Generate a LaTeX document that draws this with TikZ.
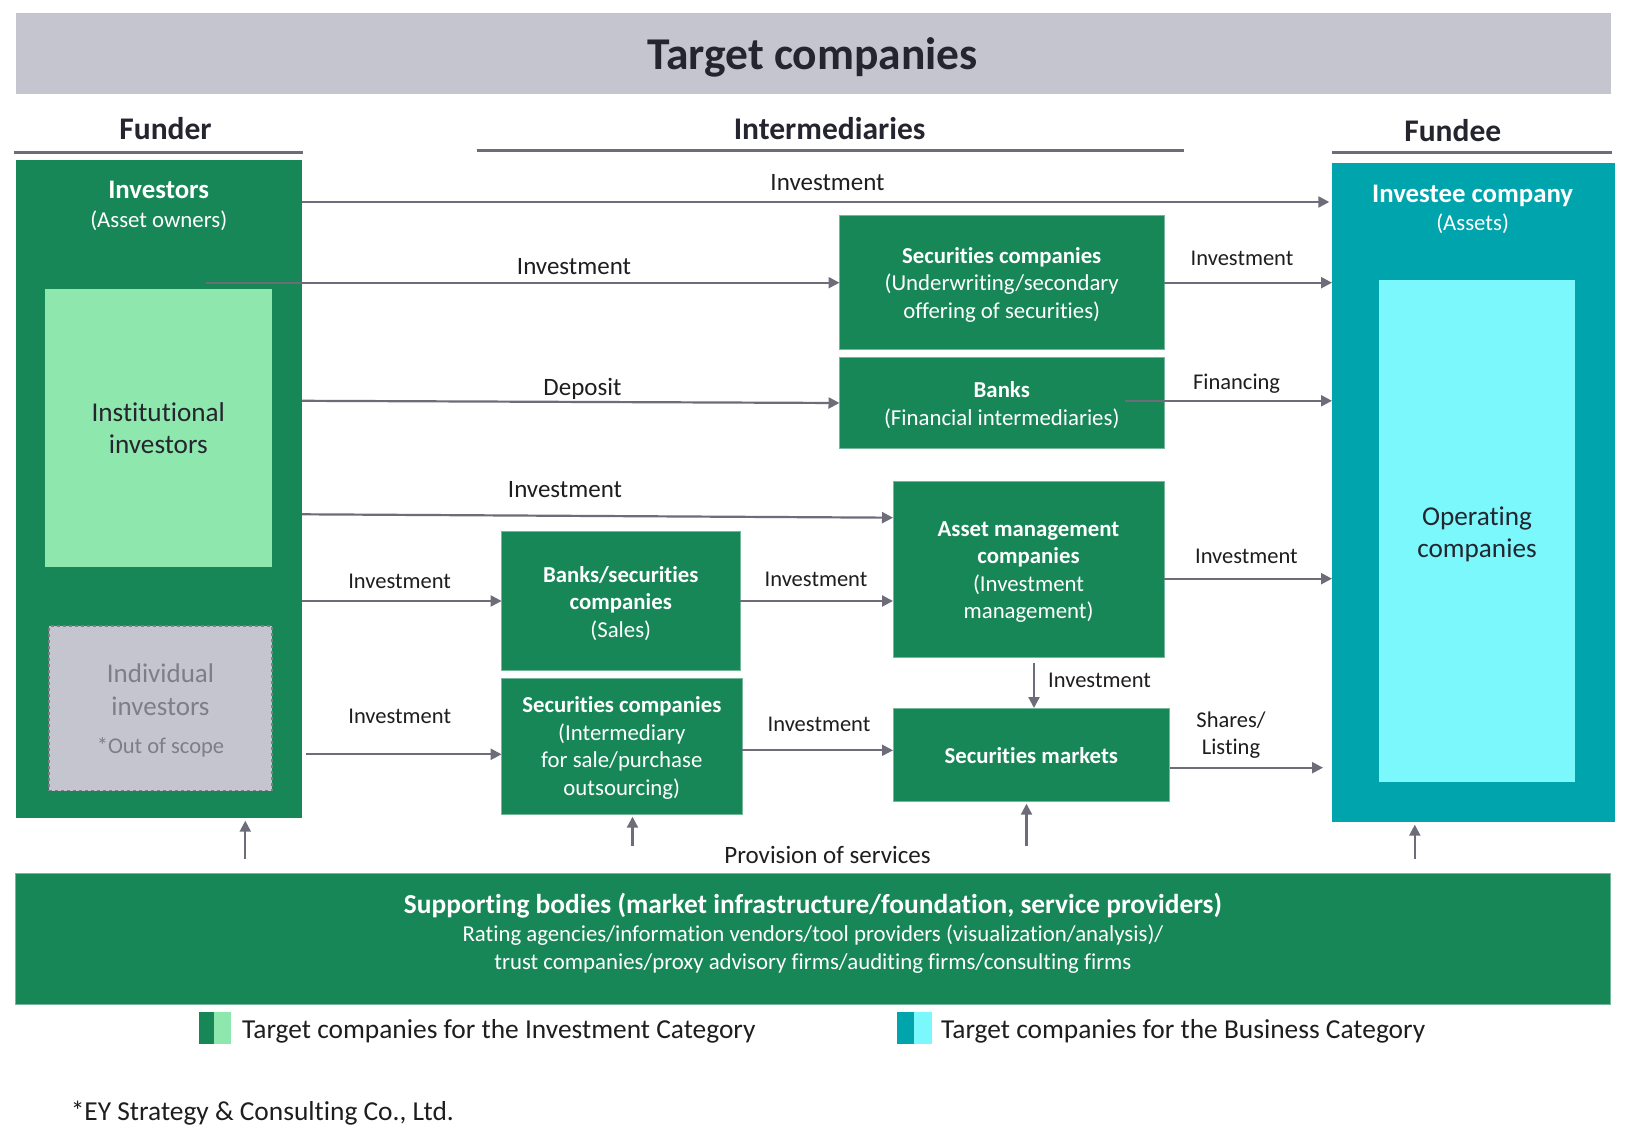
\documentclass[tikz,border=0pt]{standalone}
\usepackage{fontspec}
\setmainfont{Carlito}[Ligatures={CommonOff,ContextualOff}]
\usetikzlibrary{arrows.meta}
\definecolor{grn}{HTML}{188758}
\definecolor{lgrn}{HTML}{8EE8AD}
\definecolor{tealc}{HTML}{00A4AD}
\definecolor{cyanc}{HTML}{7BF8FC}
\definecolor{bandgray}{HTML}{C5C5CF}
\definecolor{arrowgray}{HTML}{6D6D7A}
\definecolor{hdr}{HTML}{25252F}
\definecolor{indgray}{HTML}{7E7E88}
\definecolor{labc}{HTML}{1E1E1E}
\newcommand\fsz[2]{\fontsize{#1}{#2}\selectfont}
\begin{document}
\begin{tikzpicture}[x=1pt,y=-1pt,
 box/.style={inner sep=0pt, outer sep=0pt, anchor=north west},
 gbox/.style={box, fill=grn, draw=grn!60!white, line width=0.8pt},
 gtxt/.style={inner sep=0pt, text=white, align=center, font=\fsz{22.8}{27.5}},
 txt/.style={inner sep=0pt, text depth=0pt},
 lab/.style={txt, text height=14.4pt, text=labc, font=\fsz{22.5}{27}},
 labL/.style={txt, text height=16pt, text=labc, font=\fsz{25}{30}},
 hdrtxt/.style={txt, text height=20.2pt, text=hdr, font=\bfseries\fsz{31.5}{36}},
 legtxt/.style={txt, text height=17.6pt, anchor=west, text=labc, font=\fsz{27.4}{32}},
 hdrline/.style={draw=arrowgray, line width=2.6pt},
 conn/.style={draw=arrowgray, line width=2.2pt, -{Triangle[length=11pt,width=11pt]}},
]
\useasboundingbox[fill=white] (0,0) rectangle (1628,1139);

% title band
\node[box, fill=bandgray, minimum width=1595.4pt, minimum height=80.7pt] (band) at (15.6,13.3) {};
\node[txt, text height=29.1pt, text=hdr, font=\bfseries\fsz{45.5}{50}] (title) at (812.5,55) {Target companies};

% column headers
\node[hdrtxt] (hfunder) at (165.5,129.7) {Funder};
\node[hdrtxt] (hinter) at (829.6,129.7) {Intermediaries};
\node[hdrtxt] (hfundee) at (1452.8,131.7) {Fundee};
\draw[hdrline] (13.5,152.4) -- (302.5,152.4);
\draw[hdrline] (476.6,150.4) -- (1184,150.4);
\draw[hdrline] (1331.7,152.4) -- (1611.5,152.4);

% funder
\node[box, fill=grn, minimum width=286pt, minimum height=658pt] (inv) at (16,160) {};
\node[txt, text height=17.2pt, text=white, font=\bfseries\fsz{26.8}{30}] (invt) at (158.7,190.3) {Investors};
\node[txt, text height=14.6pt, text=white, font=\fsz{22.8}{27}] (invs) at (158.7,220) {(Asset owners)};
\node[box, fill=lgrn, minimum width=227.4pt, minimum height=278pt] (inst) at (44.6,289) {};
\node[inner sep=0pt, align=center, text=hdr, font=\fsz{27.2}{32.2}] (instt) at (inst.center) {Institutional\\investors};
\node[box, fill=bandgray, draw=indgray, dashed, line width=1.4pt, minimum width=223pt, minimum height=164.5pt] (indiv) at (49,626) {};
\node[inner sep=0pt, align=center, text=indgray, font=\fsz{27}{32.7}] (indivt) at ([yshift=-2.5pt]indiv.center) {Individual\\investors\\[5.5pt]{\fsz{22.5}{32.7}*Out of scope}};

% fundee
\node[box, fill=tealc, minimum width=282.5pt, minimum height=658.5pt] (invee) at (1332,163.5) {};
\node[txt, text height=17.2pt, text=white, font=\bfseries\fsz{26.8}{30}] (inveet) at (1472.6,194) {Investee company};
\node[txt, text height=14.6pt, text=white, font=\fsz{22.8}{27}] (invees) at (1472.6,223.3) {(Assets)};
\node[box, fill=cyanc, minimum width=196pt, minimum height=501pt] (oper) at (1379,280.5) {};
\node[inner sep=0pt, align=center, text=hdr, font=\fsz{27.2}{32.2}] (opert) at ([yshift=-3pt]oper.center) {Operating\\companies};

% intermediaries
\node[gbox, minimum width=324.5pt, minimum height=134pt] (secu) at (839.5,215) {};
\node[gtxt] (secut) at ([yshift=-2.6pt]secu.center) {\textbf{Securities companies}\\(Underwriting/secondary\\offering of securities)};
\node[gbox, minimum width=324.5pt, minimum height=91.5pt] (banks) at (839.5,357) {};
\node[gtxt] (bankst) at ([yshift=-2.4pt]banks.center) {\textbf{Banks}\\(Financial intermediaries)};
\node[gbox, minimum width=271pt, minimum height=176.5pt] (asset) at (893,481) {};
\node[gtxt] (assett) at ([yshift=-2.6pt]asset.center) {\textbf{Asset management}\\\textbf{companies}\\(Investment\\management)};
\node[gbox, minimum width=276.5pt, minimum height=93pt] (smkt) at (893,708) {};
\node[gtxt] (smktt) at ([yshift=-1pt]smkt.center) {\textbf{Securities markets}};
\node[gbox, minimum width=238.4pt, minimum height=139.3pt] (sales) at (501.6,531) {};
\node[gtxt] (salest) at ([yshift=-2.6pt]sales.center) {\textbf{Banks/securities}\\\textbf{companies}\\(Sales)};
\node[gbox, minimum width=240.4pt, minimum height=136pt] (interm) at (501.6,678) {};
\node[gtxt] (intermt) at ([yshift=-2.2pt]interm.center) {\textbf{Securities companies}\\(Intermediary\\for sale/purchase\\outsourcing)};

% supporting bodies
\node[gbox, minimum width=1595pt, minimum height=130.3pt] (sup) at (15.6,873.7) {};
\node[txt, text height=17.5pt, text=white, font=\bfseries\fsz{27.4}{31}] (supt) at (813,904.3) {Supporting bodies (market infrastructure/foundation, service providers)};
\node[inner sep=0pt, text=white, align=center, font=\fsz{22.8}{27.7}] (supb) at (813,949) {Rating agencies/information vendors/tool providers (visualization/analysis)/\\trust companies/proxy advisory firms/auditing firms/consulting firms};

% helper coordinates
\coordinate (y1) at (0,202);
\coordinate (s2) at (206,282.7);
\coordinate (y3) at (0,282.7);
\coordinate (d1) at (0,400.8);
\coordinate (d2) at (0,403);
\coordinate (f1) at (1124.5,400.8);
\coordinate (a1) at (0,514.3);
\coordinate (a2) at (0,517.7);
\coordinate (y7) at (0,601);
\coordinate (s8) at (306,754.3);
\coordinate (y10) at (0,750.3);
\coordinate (x11) at (1034,0);
\coordinate (y12) at (0,578.7);
\coordinate (y13) at (0,767.7);
\coordinate (u1) at (245.3,859);
\coordinate (u2) at (632.5,845.7);
\coordinate (u3) at (1026.5,846);
\coordinate (u4) at (1414.8,859);

% connectors
\draw[conn, shorten >=2.7pt] (inv.east |- y1) -- (invee.west |- y1);
\draw[conn] (s2) -- (secu.west |- s2);
\draw[conn] (secu.east |- y3) -- (invee.west |- y3);
\draw[conn] (inv.east |- d1) -- (banks.west |- d2);
\draw[conn] (f1) -- (invee.west |- f1);
\draw[conn] (inv.east |- a1) -- (asset.west |- a2);
\draw[conn] (inv.east |- y7) -- (sales.west |- y7);
\draw[conn] (s8) -- (interm.west |- s8);
\draw[conn] (sales.east |- y7) -- (asset.west |- y7);
\draw[conn] (interm.east |- y10) -- (smkt.west |- y10);
\draw[conn, shorten <=5pt] (asset.south -| x11) -- (smkt.north -| x11);
\draw[conn] (asset.east |- y12) -- (invee.west |- y12);
\draw[conn, shorten >=9pt] (smkt.east |- y13) -- (invee.west |- y13);
\draw[conn, shorten >=2.7pt] (u1) -- (u1 |- inv.south);
\draw[conn, shorten >=2.7pt] (u2) -- (u2 |- interm.south);
\draw[conn, shorten >=2.7pt] (u3) -- (u3 |- smkt.south);
\draw[conn, shorten >=2.7pt] (u4) -- (u4 |- invee.south);

% connector labels
\node[labL] (l1) at (827.5,183) {Investment};
\node[labL] (l2) at (574,266.7) {Investment};
\node[lab] (l3) at (1242,258) {Investment};
\node[labL] (l4) at (582.5,388) {Deposit};
\node[lab] (l5) at (1236.6,382) {Financing};
\node[labL] (l6) at (565,489.3) {Investment};
\node[lab] (l7) at (399.6,581.7) {Investment};
\node[lab] (l8) at (399.7,716.7) {Investment};
\node[lab] (l9) at (816,579.4) {Investment};
\node[lab] (l10) at (819,724.7) {Investment};
\node[lab, anchor=west] (l11) at (1048,680) {Investment};
\node[lab] (l12) at (1246.4,556.7) {Investment};
\node[inner sep=0pt, align=center, text=labc, font=\fsz{22.5}{27}] (l13) at (1231,735) {Shares/\\Listing};
\node[labL] (l14) at (827.5,855.6) {Provision of services};

% legend
\node[box, fill=grn, minimum width=15pt, minimum height=32pt] (lg1a) at (199,1011.7) {};
\node[box, fill=lgrn, minimum width=16.5pt, minimum height=32pt] (lg1b) at (214,1011.7) {};
\node[legtxt] (lg1t) at (242,1029.5) {Target companies for the Investment Category};
\node[box, fill=tealc, minimum width=17pt, minimum height=32pt] (lg2a) at (897,1011.7) {};
\node[box, fill=cyanc, minimum width=17.5pt, minimum height=32pt] (lg2b) at (914,1011.7) {};
\node[legtxt] (lg2t) at (941,1029.5) {Target companies for the Business Category};

% footer
\node[legtxt] (foot) at (70.6,1111.5) {*EY Strategy \& Consulting Co., Ltd.};
\end{tikzpicture}
\end{document}
